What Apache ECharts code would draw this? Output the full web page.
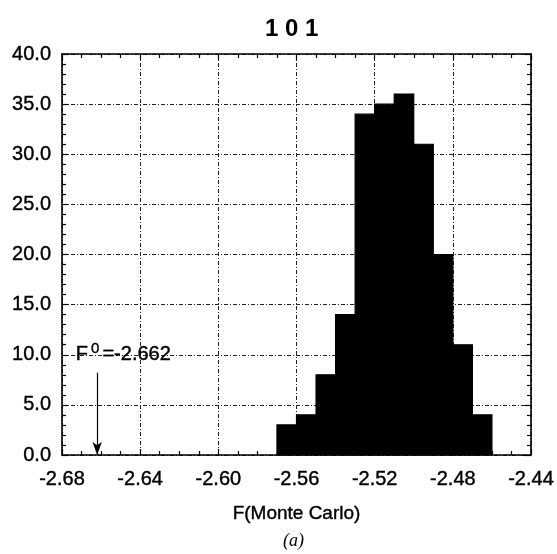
<!DOCTYPE html>
<html>
<head>
<meta charset="utf-8">
<script src="https://cdn.jsdelivr.net/npm/echarts@6/dist/echarts.min.js"></script>
<style>html,body{margin:0;padding:0;background:#fff;}#c{width:557px;height:554px;}</style>
</head>
<body>
<div id="c"></div>
<script>
// Histogram bin edges (F Monte Carlo) and counts
const binEdges = [-2.57, -2.56, -2.55, -2.54, -2.53, -2.52, -2.51, -2.50, -2.49, -2.48, -2.47, -2.46];
const counts = [3, 4, 8, 14, 34, 35, 36, 31, 20, 11, 4];
// Reference value annotation
const f0Value = -2.662;
const f0ArrowTop = 8.2;
const f0LabelPos = [-2.6729, 10.0];
const xTicks = [-2.68, -2.64, -2.60, -2.56, -2.52, -2.48, -2.44];
const yTicks = [0, 5, 10, 15, 20, 25, 30, 35, 40];

const FONT = '"Liberation Sans", Arial, Helvetica, sans-serif';
const histData = counts.map((c, i) => [binEdges[i], binEdges[i + 1], c]);

const chart = echarts.init(document.getElementById('c'), null, {renderer: 'canvas'});
const gridLine = {show: true, lineStyle: {color: '#222', width: 1, type: [4, 2, 1, 2]}};
const axisLine = {show: true, onZero: false, lineStyle: {color: '#000', width: 1.6}};
const heavy = {textBorderColor: '#000', textBorderWidth: 0.4};

chart.setOption({
  animation: false,
  backgroundColor: '#fff',
  title: {
    text: '1 0 1',
    left: 260, top: 12,
    textStyle: {fontFamily: FONT, fontWeight: 'bold', fontSize: 24, color: '#000'}
  },
  grid: {left: 62, right: 24, top: 54, bottom: 99, containLabel: false},
  xAxis: [{
    type: 'value', min: xTicks[0], max: xTicks[xTicks.length - 1], interval: 0.04,
    position: 'bottom',
    name: 'F(Monte Carlo)', nameLocation: 'middle', nameGap: 49,
    nameTextStyle: Object.assign({fontFamily: FONT, fontSize: 19, color: '#000'}, heavy),
    axisLine: axisLine,
    axisTick: {show: true, inside: true, length: 6, lineStyle: {color: '#000', width: 1.2}},
    minorTick: {show: true, splitNumber: 4, length: 4, lineStyle: {color: '#000', width: 1.2}},
    axisLabel: Object.assign({fontFamily: FONT, fontSize: 20, color: '#000', margin: 14,
      formatter: v => v.toFixed(2)}, heavy),
    splitLine: gridLine
  }, {
    type: 'value', min: xTicks[0], max: xTicks[xTicks.length - 1], interval: 0.04,
    position: 'top',
    axisLine: axisLine,
    axisTick: {show: true, inside: true, length: 6, lineStyle: {color: '#000', width: 1.2}},
    minorTick: {show: true, splitNumber: 4, length: 4, lineStyle: {color: '#000', width: 1.2}},
    axisLabel: {show: false}, splitLine: {show: false}
  }],
  yAxis: [{
    type: 'value', min: yTicks[0], max: yTicks[yTicks.length - 1], interval: 5,
    position: 'left',
    axisLine: axisLine,
    axisTick: {show: true, inside: true, length: 6, lineStyle: {color: '#000', width: 1.2}},
    minorTick: {show: true, splitNumber: 5, length: 4, lineStyle: {color: '#000', width: 1.2}},
    axisLabel: Object.assign({fontFamily: FONT, fontSize: 20, color: '#000', margin: 11,
      formatter: v => v.toFixed(1)}, heavy),
    splitLine: gridLine
  }, {
    type: 'value', min: yTicks[0], max: yTicks[yTicks.length - 1], interval: 5,
    position: 'right',
    axisLine: axisLine,
    axisTick: {show: true, inside: true, length: 6, lineStyle: {color: '#000', width: 1.2}},
    minorTick: {show: true, splitNumber: 5, length: 4, lineStyle: {color: '#000', width: 1.2}},
    axisLabel: {show: false}, splitLine: {show: false}
  }],
  graphic: [{
    type: 'text', left: 283, top: 532,
    style: {text: '(a)', font: 'italic 18px "Liberation Serif", "Times New Roman", serif', fill: '#000'}
  }],
  series: [{
    type: 'custom',
    xAxisIndex: 0, yAxisIndex: 0,
    data: histData,
    encode: {x: [0, 1], y: 2},
    renderItem: function (params, api) {
      const p0 = api.coord([api.value(0), api.value(2)]);
      const p1 = api.coord([api.value(1), 0]);
      return {
        type: 'rect',
        shape: {x: p0[0], y: p0[1], width: p1[0] - p0[0], height: p1[1] - p0[1]},
        style: {fill: '#000', stroke: '#000', lineWidth: 1.2}
      };
    },
    z: 3,
    markLine: {
      silent: true,
      symbol: ['none', 'arrow'],
      symbolSize: [7, 13],
      lineStyle: {color: '#000', width: 1.2, type: 'solid'},
      label: {show: false},
      data: [[{coord: [f0Value, f0ArrowTop]}, {coord: [f0Value, 0]}]]
    },
    markPoint: {
      silent: true,
      symbol: 'circle', symbolSize: 0,
      data: [{coord: f0LabelPos}],
      label: {
        show: true, position: 'right', distance: 0,
        formatter: '{a|F}{b|0}{a|=-2.662}',
        rich: {
          a: Object.assign({fontFamily: FONT, fontSize: 20, color: '#000'}, heavy),
          b: Object.assign({fontFamily: FONT, fontSize: 15, color: '#000', padding: [0, 3, 12, 3]}, heavy)
        }
      }
    }
  }]
});
</script>
</body>
</html>
